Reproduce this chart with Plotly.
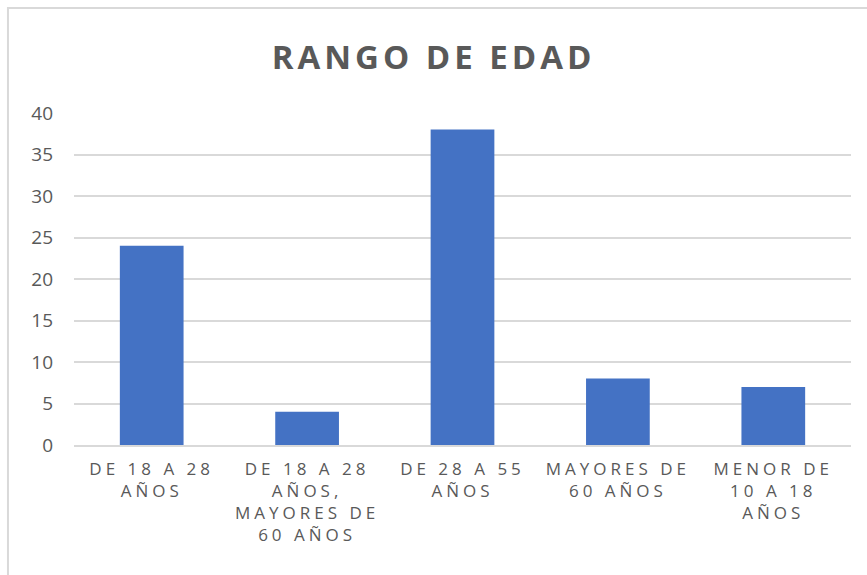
import plotly.graph_objects as go

categories = [
    "DE 18 A 28<br>AÑOS",
    "DE 18 A 28<br>AÑOS,<br>MAYORES DE<br>60 AÑOS",
    "DE 28 A 55<br>AÑOS",
    "MAYORES DE<br>60 AÑOS",
    "MENOR DE<br>10 A 18<br>AÑOS",
]
values = [24, 4, 38, 8, 7]
y_ticks = [0, 5, 10, 15, 20, 25, 30, 35, 40]
title_text = "RANGO DE EDAD"

fig = go.Figure(
    go.Bar(
        x=categories,
        y=values,
        marker=dict(color="#4472C4", line=dict(width=0)),
        hoverinfo="x+y",
    )
)

fig.update_layout(
    width=867,
    height=575,
    paper_bgcolor="white",
    plot_bgcolor="white",
    bargap=0.59,
    margin=dict(l=74, r=16, t=113, b=130),
    title=dict(
        text="<b>" + title_text + "</b>",
        x=0.5,
        xanchor="center",
        y=1 - 57 / 575,
        yanchor="middle",
        font=dict(family="Open Sans", size=33, color="#595959"),
    ),
    font=dict(family="Open Sans", color="#595959"),
    showlegend=False,
    shapes=[
        dict(
            type="rect",
            xref="paper",
            yref="paper",
            x0=-0.085,
            x1=1.1,
            y0=-0.6,
            y1=1.316,
            line=dict(color="#d9d9d9", width=2),
            fillcolor="rgba(0,0,0,0)",
            layer="below",
        )
    ],
)

fig.update_yaxes(
    range=[0, 40],
    tickvals=y_ticks,
    showgrid=True,
    gridcolor="#d9d9d9",
    gridwidth=1.5,
    zeroline=False,
    showline=False,
    ticks="",
    ticklabelstandoff=20,
    tickfont=dict(family="Open Sans", size=19, color="#595959"),
)
fig.update_xaxes(
    showline=True,
    linecolor="#d9d9d9",
    linewidth=1.5,
    ticks="",
    tickangle=0,
    ticklabelstandoff=8,
    tickfont=dict(family="Open Sans", size=17, color="#595959"),
)

post = """
document.body.style.margin = '0';
var s = document.createElement('style');
s.innerHTML = '.xtick text{letter-spacing:4px;} .gtitle{letter-spacing:4px;}';
document.head.appendChild(s);
"""
fig.write_html("out.html", post_script=post, config={"displayModeBar": False})
